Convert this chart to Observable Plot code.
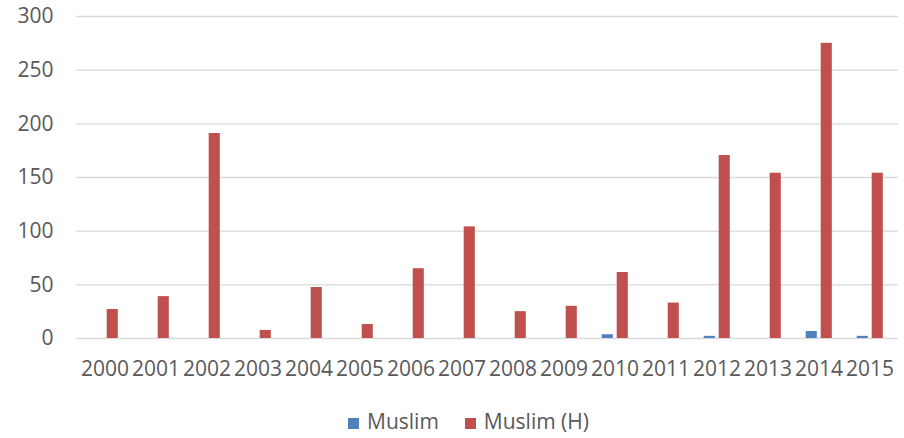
<!DOCTYPE html>
<html><head><meta charset="utf-8">
<script src="https://cdn.jsdelivr.net/npm/d3@7"></script>
<script src="https://cdn.jsdelivr.net/npm/@observablehq/plot@0.6"></script>
<style>
body{margin:0;background:#fff;font-family:"Open Sans",sans-serif;width:904px;height:438px;position:relative;overflow:hidden;}
#legend{position:absolute;left:348px;top:411px;display:flex;align-items:flex-start;font-size:21px;line-height:21px;color:#595959;}
.sw{width:11px;height:11px;margin-top:7px;margin-right:8px;}
.item{display:flex;align-items:flex-start;}
</style></head><body>
<div id="chart"></div>
<div id="legend"></div>
<script>
const years = ["2000","2001","2002","2003","2004","2005","2006","2007","2008","2009","2010","2011","2012","2013","2014","2015"];
const muslim = [0,0,0,0,0,0,0,0,0,0,3.5,0,2,0,6.5,2];
const muslimH = [27,39,191,7.5,47.5,13,65,104,25,30,61.5,33,170.5,154,275,154];
const seriesNames = ["Muslim","Muslim (H)"];
const yTicks = [0,50,100,150,200,250,300];

const colors = ["#4F81BD","#C0504D"];
const rows = [];
years.forEach((y,i)=>{
  rows.push({year:y, series:seriesNames[0], value:muslim[i]});
  rows.push({year:y, series:seriesNames[1], value:muslimH[i]});
});

const chart = Plot.plot({
  width: 904,
  height: 400,
  marginTop: 16,
  marginBottom: 62,
  marginLeft: 76,
  marginRight: 6,
  style: {fontFamily: '"Open Sans", sans-serif', fontSize: "21px", color: "#595959", background: "#fff"},
  x: {type: "band", domain: years, padding: 0, label: null},
  y: {domain: [0,300], label: null},
  color: {domain: seriesNames, range: colors},
  marks: [
    Plot.ruleY(yTicks, {stroke: "#D9D9D9", strokeWidth: 1.3}),
    Plot.barY(rows.filter(d=>d.series===seriesNames[0]), {x:"year", y:"value", fill:"series", insetLeft:12.7, insetRight:27.2}),
    Plot.barY(rows.filter(d=>d.series===seriesNames[1]), {x:"year", y:"value", fill:"series", insetLeft:27.7, insetRight:12.2}),
    Plot.axisY({ticks: yTicks, tickSize: 0, tickPadding: 23, fill: "#595959", fontSize: 21}),
    Plot.axisX({tickSize: 0, tickPadding: 23, fill: "#595959", fontSize: 21})
  ]
});
document.getElementById("chart").appendChild(chart);

const legend = document.getElementById("legend");
seriesNames.forEach((name,i)=>{
  const item = document.createElement("div");
  item.className = "item";
  if (i>0) item.style.marginLeft = "26px";
  const sw = document.createElement("div");
  sw.className = "sw";
  sw.style.background = colors[i];
  const t = document.createElement("span");
  t.textContent = name;
  item.appendChild(sw); item.appendChild(t);
  legend.appendChild(item);
});
</script>
</body></html>
